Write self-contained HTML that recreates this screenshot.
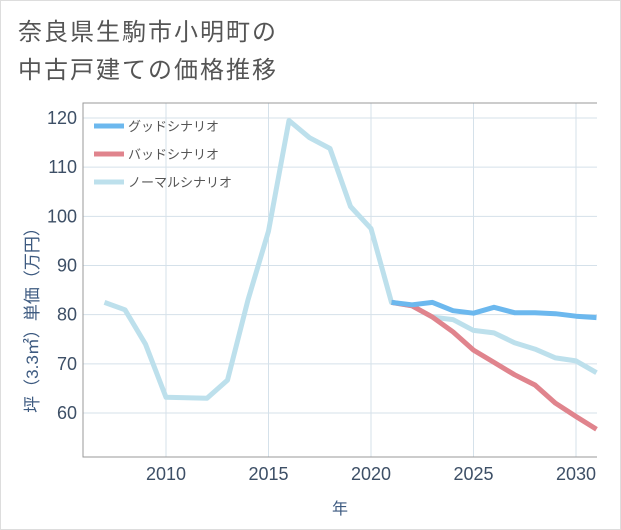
<!DOCTYPE html>
<html><head><meta charset="utf-8"><style>
body{margin:0;background:#fff;}
svg{display:block;font-family:"Liberation Sans","Noto Sans CJK JP",sans-serif;}
</style></head><body>
<svg width="621" height="530" viewBox="0 0 621 530">
<rect x="0.5" y="0.5" width="620" height="529" fill="#fff" stroke="#ddd"/>
<text x="18" y="40" font-size="24" letter-spacing="2" fill="#555">奈良県生駒市小明町の</text>
<text x="18" y="78" font-size="24" letter-spacing="2" fill="#555">中古戸建ての価格推移</text>
<g id="grid"></g>
<g id="axes"></g>
<g id="series"></g>
<g id="legend"></g>
<text transform="translate(38,316) rotate(-90)" text-anchor="middle" font-size="17" fill="#3d5a80">坪（3.3㎡）単価（万円）</text>
<text x="340" y="514" text-anchor="middle" font-size="16" fill="#3d5a80">年</text>
</svg>
<script>
const years=[2007,2008,2009,2010,2011,2012,2013,2014,2015,2016,2017,2018,2019,2020,2021,2022,2023,2024,2025,2026,2027,2028,2029,2030,2031];
const normalVals=[82.5,81,74,63.2,63.1,63,66.7,83,97,119.5,116,113.8,102,97.5,82.5,81.8,79.5,79,76.8,76.3,74.3,73,71.2,70.6,68.2];
const predYears=[2021,2022,2023,2024,2025,2026,2027,2028,2029,2030,2031];
const goodVals=[82.5,82,82.5,80.8,80.3,81.5,80.4,80.4,80.2,79.7,79.4];
const badVals=[82.5,81.8,79.5,76.5,72.8,70.3,67.8,65.7,62,59.3,56.7];
const xTicks=[2010,2015,2020,2025,2030];
const yTicks=[60,70,80,90,100,110,120];
const legendLabels=["グッドシナリオ","バッドシナリオ","ノーマルシナリオ"];
const colors=["#6cb8ee","#e0848d","#bde0ec"];
const L=83,R=597,T=103,B=457;
const xs=y=>166+(y-2010)*20.5;
const ys=v=>118+(120-v)*4.917;
const NS="http://www.w3.org/2000/svg";
function mk(p,tag,a){const e=document.createElementNS(NS,tag);for(const k in a)e.setAttribute(k,a[k]);p.appendChild(e);return e;}
const grid=document.getElementById('grid'),axes=document.getElementById('axes'),ser=document.getElementById('series'),leg=document.getElementById('legend');
yTicks.forEach(v=>{const l=mk(grid,'line',{x1:L,x2:R,y1:ys(v),y2:ys(v),stroke:'#d5e1ea','stroke-width':1});


const t=mk(axes,'text',{x:L-6,y:ys(v)+6,'text-anchor':'end','font-size':18,fill:'#3d4f66'});t.textContent=v;

});
xTicks.forEach(v=>{const l=mk(grid,'line',{x1:xs(v),x2:xs(v),y1:T,y2:B,stroke:'#d5e1ea','stroke-width':1});


const t=mk(axes,'text',{x:xs(v),y:B+23,'text-anchor':'middle','font-size':18,fill:'#3d4f66'});t.textContent=v;

});
const fr=mk(axes,'path',{d:`M${R},${T}H${L}V${B}H${R}`,fill:'none',stroke:'#999','stroke-width':1});


function line(xv,yv,c,name){const d=xv.map((x,i)=>(i?'L':'M')+xs(x).toFixed(1)+','+ys(yv[i]).toFixed(1)).join('');
const p=mk(ser,'path',{d:d,fill:'none',stroke:c,'stroke-width':5,'stroke-linejoin':'round'});

}
line(years,normalVals,colors[2],'normal-scenario-line');
line(predYears,badVals,colors[1],'bad-scenario-line');
line(predYears,goodVals,colors[0],'good-scenario-line');
legendLabels.forEach((s,i)=>{const y=126+i*28;
const l=mk(leg,'line',{x1:94,x2:124,y1:y,y2:y,stroke:colors[i],'stroke-width':5});


const t=mk(leg,'text',{x:128,y:y+5,'font-size':13,fill:'#555'});t.textContent=s;

});
</script>
</body></html>
